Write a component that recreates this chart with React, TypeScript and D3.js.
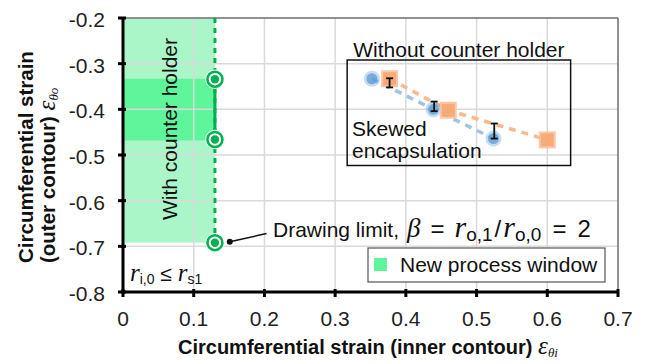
import * as d3 from 'd3';

const xTicks = [0, 0.1, 0.2, 0.3, 0.4, 0.5, 0.6, 0.7];
const yTicks = [-0.8, -0.7, -0.6, -0.5, -0.4, -0.3, -0.2];
const xTickLabels = ['0', '0.1', '0.2', '0.3', '0.4', '0.5', '0.6', '0.7'];
const yTickLabels = ['-0.8', '-0.7', '-0.6', '-0.5', '-0.4', '-0.3', '-0.2'];

// without counter holder: skewed encapsulation (blue) and measured (orange)
const blueX = [0.352, 0.439, 0.524];
const blueY = [-0.333, -0.4, -0.464];
const orangeX = [0.377, 0.46, 0.6];
const orangeY = [-0.333, -0.402, -0.467];
const errX = [0.377, 0.44, 0.525];
const errLow = [-0.352, -0.404, -0.464];
const errHigh = [-0.332, -0.383, -0.431];

// with counter holder: drawing limit points and process window
const limitX = 0.13;
const limitY = [-0.334, -0.466, -0.692];
const windowX = [0, 0.13];
const windowY = [-0.2, -0.692];
const holderY = [-0.333, -0.468];

const boxX = [0.317, 0.633];
const boxY = [-0.292, -0.523];

const W = 646;
const H = 364;
const margin = { top: 18, right: 28, bottom: 72, left: 123 };
const SANS = 'Liberation Sans, Arial, sans-serif';
const SERIF = 'Liberation Serif, Times New Roman, serif';
const GREEN = '#00b050';
const LIGHT = '#abf6c8';
const DARK = '#5ef59b';
const BLUE = '#5b9bd5';
const ORANGE = '#f4a06a';

export default function App() {
  const x = d3.scaleLinear().domain([0, 0.7]).range([margin.left, W - margin.right]);
  const y = d3.scaleLinear().domain([-0.8, -0.2]).range([H - margin.bottom, margin.top]);
  const line = d3.line<[number, number]>().x(d => x(d[0])).y(d => y(d[1]));
  const blue = blueX.map((v, i) => [v, blueY[i]] as [number, number]);
  const orange = orangeX.map((v, i) => [v, orangeY[i]] as [number, number]);
  const x0 = x(0), x1 = x(0.7), y0 = y(-0.8), y1 = y(-0.2);

  return (
    <svg width={W} height={H} style={{ position: 'absolute', left: 0, top: 0 }} fontFamily={SANS}>
      <rect width={W} height={H} fill="#fff" />

      {/* process window */}
      <rect x={x(windowX[0])} y={y(windowY[0])} width={x(windowX[1]) - x(windowX[0])}
        height={y(windowY[1]) - y(windowY[0])} fill={LIGHT} />
      <rect x={x(windowX[0])} y={y(holderY[0])} width={x(windowX[1]) - x(windowX[0])}
        height={y(holderY[1]) - y(holderY[0])} fill={DARK} />

      {/* grid */}
      {xTicks.map((t, i) => (
        <line key={'gx' + i} x1={x(t)} x2={x(t)} y1={y0} y2={y1} stroke="#d9d9d9" strokeWidth={1.5} />
      ))}
      {yTicks.map((t, i) => (
        <line key={'gy' + i} x1={x0} x2={x1} y1={y(t)} y2={y(t)} stroke="#d9d9d9" strokeWidth={1.5} />
      ))}
      <line x1={x0} x2={x1} y1={y1} y2={y1} stroke="#404040" strokeWidth={1} />
      <line x1={x1} x2={x1} y1={y1} y2={y0} stroke="#404040" strokeWidth={1} />

      {/* drawing limit line */}
      <line x1={x(limitX)} x2={x(limitX)} y1={y(-0.2)} y2={y(limitY[2])} stroke={GREEN}
        strokeWidth={3} strokeDasharray="5 5" />
      <line x1={x(limitX)} x2={x(limitX)} y1={y(limitY[0])} y2={y(limitY[1])} stroke={GREEN} strokeWidth={3} />
      {limitY.map((v, i) => (
        <g key={'lim' + i}>
          <circle cx={x(limitX)} cy={y(v)} r={9} fill="#fff" stroke="#e8fff0" strokeWidth={1.5} />
          <circle cx={x(limitX)} cy={y(v)} r={7.5} fill="#fff" stroke={GREEN} strokeWidth={2.5} />
          <circle cx={x(limitX)} cy={y(v)} r={4.2} fill={GREEN} />
        </g>
      ))}

      <text transform={`translate(177,129) rotate(-90)`} textAnchor="middle" fontSize={21} fill="#111">
        With counter holder
      </text>
      <text x={130} y={281} fontSize={21} fill="#111">
        <tspan fontFamily={SERIF} fontStyle="italic" fontSize={25}>r</tspan>
        <tspan fontSize={14} dy={3}>i,0</tspan>
        <tspan dy={-3}> ≤ </tspan>
        <tspan fontFamily={SERIF} fontStyle="italic" fontSize={25}>r</tspan>
        <tspan fontSize={14} dy={3}>s1</tspan>
      </text>

      {/* without counter holder */}
      <rect x={x(boxX[0])} y={y(boxY[0])} width={x(boxX[1]) - x(boxX[0])}
        height={y(boxY[1]) - y(boxY[0])} fill="none" stroke="#111" strokeWidth={1.5} />
      <text x={(x(boxX[0]) + x(boxX[1])) / 2} y={57} textAnchor="middle" fontSize={21} fill="#111">
        Without counter holder
      </text>
      <path d={line(blue) || ''} fill="none" stroke="#9dc3e6" strokeWidth={3.5} strokeDasharray="7 6" />
      <path d={line(orange) || ''} fill="none" stroke="#f8b98e" strokeWidth={3.5} strokeDasharray="7 6" />
      {blue.map((d, i) => (
        <g key={'b' + i}>
          <circle cx={x(d[0])} cy={y(d[1])} r={8} fill={BLUE} opacity={0.35} />
          <circle cx={x(d[0])} cy={y(d[1])} r={5.5} fill={BLUE} opacity={0.75} />
        </g>
      ))}
      {orange.map((d, i) => (
        <g key={'o' + i}>
          <rect x={x(d[0]) - 8.5} y={y(d[1]) - 8.5} width={17} height={17} fill="#f8c3a0" opacity={0.9} />
          <rect x={x(d[0]) - 6.5} y={y(d[1]) - 6.5} width={13} height={13} fill={ORANGE} opacity={0.75} />
        </g>
      ))}
      {errX.map((v, i) => (
        <g key={'e' + i} stroke="#111" strokeWidth={1.8}>
          <line x1={x(v)} x2={x(v)} y1={y(errLow[i])} y2={y(errHigh[i])} />
          <line x1={x(v) - 3.5} x2={x(v) + 3.5} y1={y(errLow[i])} y2={y(errLow[i])} />
          <line x1={x(v) - 3.5} x2={x(v) + 3.5} y1={y(errHigh[i])} y2={y(errHigh[i])} />
        </g>
      ))}
      <text x={352} y={136} fontSize={21} fill="#111">Skewed</text>
      <text x={352} y={158} fontSize={21} fill="#111">encapsulation</text>

      {/* drawing limit annotation */}
      <line x1={x(0.151)} y1={y(-0.69)} x2={x(0.203)} y2={y(-0.672)} stroke="#111" strokeWidth={1.5} />
      <circle cx={x(0.151)} cy={y(-0.69)} r={3} fill="#111" />
      <text x={273} y={237} fontSize={21} fill="#111">
        Drawing limit,
        <tspan dx={8} fontFamily={SERIF} fontStyle="italic" fontSize={27}>β</tspan>
        <tspan dx={10} fontSize={24}>=</tspan>
        <tspan dx={10} fontFamily={SERIF} fontStyle="italic" fontSize={30}>r</tspan>
        <tspan fontSize={19} dy={4}>o,1</tspan>
        <tspan dy={-4} dx={2} fontSize={24}>/</tspan>
        <tspan dx={2} fontFamily={SERIF} fontStyle="italic" fontSize={30}>r</tspan>
        <tspan fontSize={19} dy={4}>o,0</tspan>
        <tspan dy={-4} dx={11} fontSize={24}>=</tspan>
        <tspan dx={11} fontSize={24}>2</tspan>
      </text>

      {/* legend */}
      <rect x={368} y={248} width={237} height={34} fill="#fff" stroke="#555" strokeWidth={1.2} />
      <rect x={374} y={258} width={13} height={13} fill={DARK} />
      <text x={400} y={272} fontSize={21} fill="#111">New process window</text>

      {/* axes */}
      <line x1={x0} x2={x0} y1={y1} y2={y0 + 1.5} stroke="#000" strokeWidth={3} />
      <line x1={x0 - 1.5} x2={x1 + 1} y1={y0} y2={y0} stroke="#000" strokeWidth={3} />
      {xTicks.map((t, i) => (
        <g key={'xt' + i}>
          <line x1={x(t)} x2={x(t)} y1={y0 - 3} y2={y0 + 5} stroke="#000" strokeWidth={3} />
          <text x={x(t)} y={y0 + 34} textAnchor="middle" fontSize={21} fill="#222">{xTickLabels[i]}</text>
        </g>
      ))}
      {yTicks.map((t, i) => (
        <g key={'yt' + i}>
          <line x1={x0 - 5} x2={x0 + 3} y1={y(t)} y2={y(t)} stroke="#000" strokeWidth={3} />
          <text x={105} y={y(t) + 9} textAnchor="end" fontSize={21} fill="#222">{yTickLabels[i]}</text>
        </g>
      ))}

      <text x={178} y={354} fontSize={20} fontWeight="bold" fill="#111">
        Circumferential strain (inner contour){' '}
        <tspan fontFamily={SERIF} fontStyle="italic" fontWeight="normal" fontSize={25}>ε</tspan>
        <tspan fontFamily={SERIF} fontStyle="italic" fontWeight="normal" fontSize={13} dy={3}>θi</tspan>
      </text>
      <text transform="translate(33,263) rotate(-90)" fontSize={20.5} fontWeight="bold" fill="#111">
        Circumferential strain
      </text>
      <text transform="translate(55,263) rotate(-90)" fontSize={20.5} fontWeight="bold" fill="#111">
        (outer contour){' '}
        <tspan fontFamily={SERIF} fontStyle="italic" fontWeight="normal" fontSize={25}>ε</tspan>
        <tspan fontFamily={SERIF} fontStyle="italic" fontWeight="normal" fontSize={13} dy={3}>θo</tspan>
      </text>
    </svg>
  );
}
